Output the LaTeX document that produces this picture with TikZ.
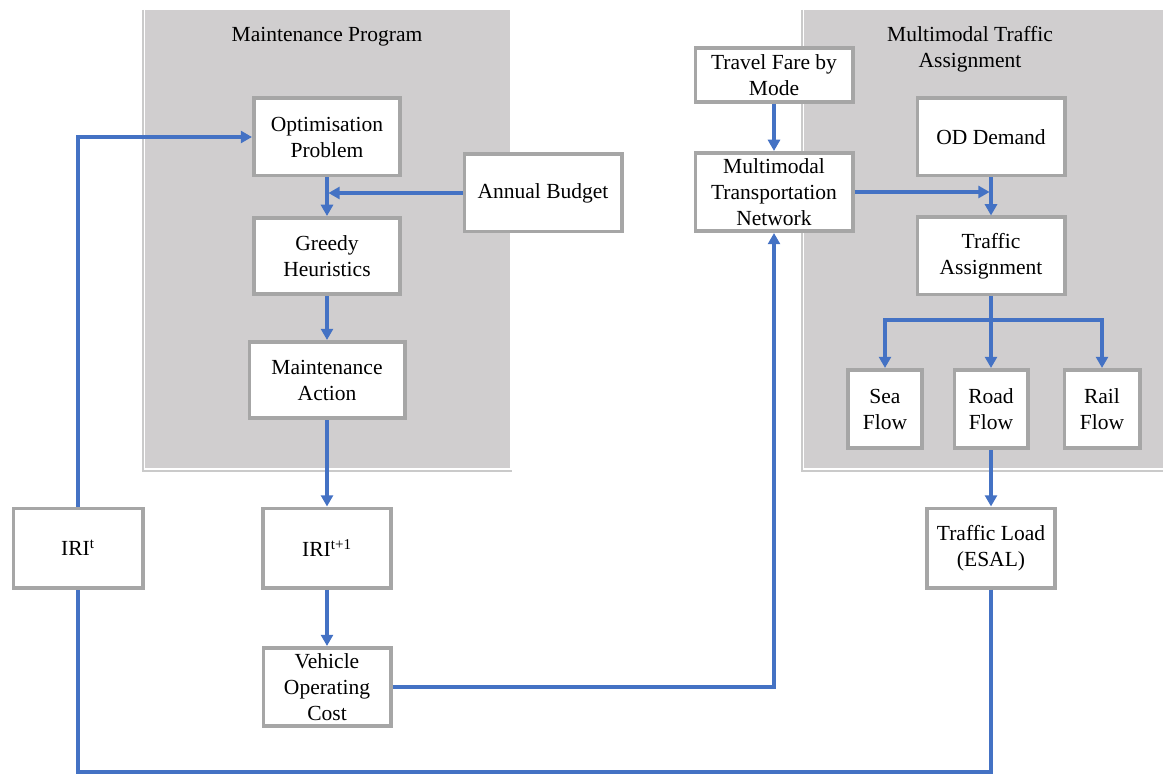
\documentclass[tikz,border=0pt]{standalone}
\usepackage{fontspec}
\setmainfont{Liberation Serif}
\usepackage{tikz}
\usetikzlibrary{arrows.meta}
\usepackage{xcolor}
\definecolor{panelgray}{RGB}{208,206,207}
\definecolor{edgegray}{RGB}{166,166,166}
\definecolor{linkblue}{RGB}{68,114,196}

\begin{document}
\begin{tikzpicture}[x=0.025cm,y=-0.025cm,
	box/.style 2 args={
  		draw=edgegray,
  		line width=2.6pt,
  		fill=white,
  		align=center,
  		inner sep=1pt,
  		minimum width=#1*0.025cm-2.6pt,
  		minimum height=#2*0.025cm-2.6pt,
  		font=\fontsize{15.3}{18.5}\selectfont
  	},
	panel/.style={fill=panelgray},
	link/.style={draw=linkblue,line width=2.3pt},
	arr/.style={link,-{Triangle[length=8pt,width=8.5pt]}}]

	\useasboundingbox (0,0) rectangle (1163,774);

	% grey areas
	\fill[panel] (145,10) rectangle (510,468);
	\draw[edgegray!60,line width=0.8pt] (143,10) -- (143,471) -- (512,471);
	\fill[panel] (804,10) rectangle (1163,468);
	\draw[edgegray!60,line width=0.8pt] (802,10) -- (802,471) -- (1163,471);

	\node[font=\fontsize{15.3}{18.5}\selectfont] (mptitle) at (327,37) {Maintenance Program};
	\node[font=\fontsize{15.3}{18.5}\selectfont,align=center] (mttitle) at (970,49) {Multimodal Traffic\\Assignment};

	% maintenance side
	\node[box={150}{81}] (opt) at (327,137) {Optimisation\\Problem};
	\node[box={150}{80}] (greedy) at (327,256) {Greedy\\Heuristics};
	\node[box={159}{80}] (action) at (327,380) {Maintenance\\Action};
	\node[box={161}{81}] (budget) at (543,193) {Annual Budget};
	\node[box={133}{83}] (irit) at (78,548) {IRI\textsuperscript{t}};
	\node[box={132}{83}] (irinext) at (327,548) {IRI\textsuperscript{t+1}};
	\node[box={131}{82}] (voc) at (327,687) {Vehicle\\Operating\\Cost};

	% traffic side
	\node[box={161}{58}] (fare) at (774,75) {Travel Fare by\\Mode};
	\node[box={161}{82}] (network) at (774,192) {Multimodal\\Transportation\\Network};
	\node[box={151}{81}] (od) at (991,137) {OD Demand};
	\node[box={151}{81}] (assign) at (991,256) {Traffic\\Assignment};
	\node[box={78}{82}] (sea) at (885,409) {Sea\\Flow};
	\node[box={77}{82}] (road) at (991,409) {Road\\Flow};
	\node[box={79}{82}] (rail) at (1102,409) {Rail\\Flow};
	\node[box={132}{83}] (load) at (991,548) {Traffic Load\\(ESAL)};

	\coordinate (budgetin) at (opt.south |- budget.west);
	\coordinate (netin) at (od.south |- network.east);
	\coordinate (split) at (320,320);
	\coordinate (loopbottom) at (0,772);

	% connectors
	\draw[arr] (irit.north) |- (opt.west);
	\draw[arr] (opt) -- (greedy);
	\draw[arr] (budget.west) -- ([xshift=1pt]budgetin);
	\draw[arr] (greedy) -- (action);
	\draw[arr] (action) -- (irinext);
	\draw[arr] (irinext) -- (voc);
	\draw[arr] (voc.east) -| (network.south);
	\draw[arr] (fare) -- (network);
	\draw[arr] (network.east) -- ([xshift=-1pt]netin);
	\draw[arr] (od) -- (assign);
	\draw[arr] (assign.south) -- (road.north);
	\draw[arr] (assign.south |- split) -| (sea.north);
	\draw[arr] (assign.south |- split) -| (rail.north);
	\draw[arr] (road) -- (load);
	\draw[link] (load.south) -- (load.south |- loopbottom) -| (irit.south);
\end{tikzpicture}
\end{document}
